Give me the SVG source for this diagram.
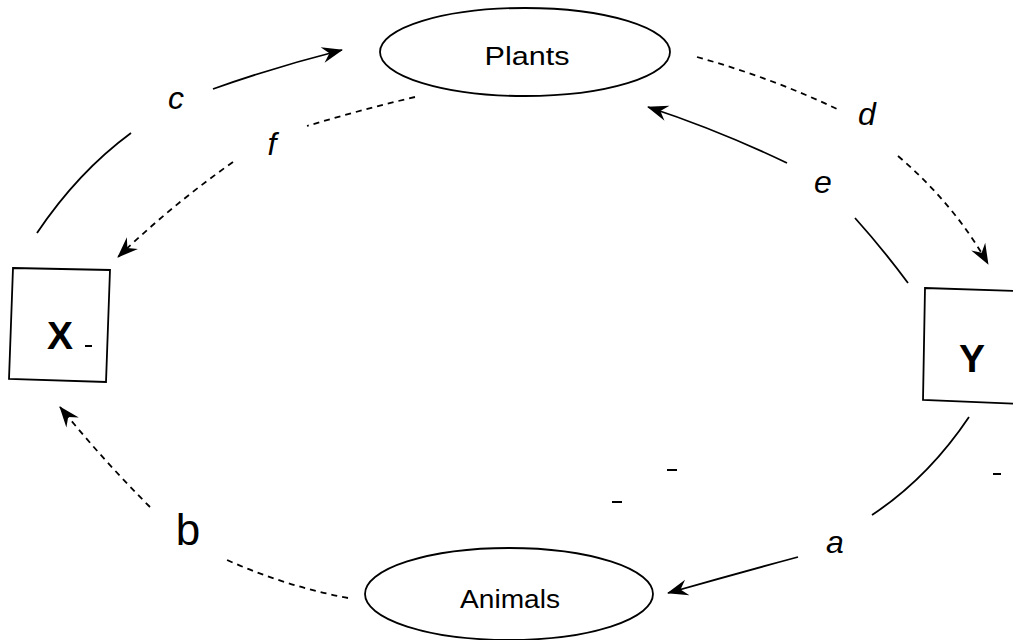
<svg xmlns="http://www.w3.org/2000/svg" width="1013" height="640" viewBox="0 0 1013 640">
  <style>
    .shape { fill: #fff; stroke: #000; stroke-width: 1.8; }
    .solid { fill: none; stroke: #000; stroke-width: 1.8; }
    .dash { fill: none; stroke: #000; stroke-width: 1.8; stroke-dasharray: 6 5; }
    .name { font-family: "Liberation Sans", Arial, sans-serif; font-size: 26px; fill: #000; text-anchor: middle; }
    .box { font-family: "Liberation Sans", Arial, sans-serif; font-weight: bold; font-size: 39px; fill: #000; text-anchor: middle; }
    .lbl { font-family: "Liberation Sans", Arial, sans-serif; font-style: italic; font-size: 32px; fill: #000; text-anchor: middle; }
    .mark { stroke: #000; stroke-width: 2; }
  </style>
  <defs>
    <marker id="arrow" markerUnits="userSpaceOnUse" viewBox="0 0 22 18" markerWidth="22" markerHeight="18" refX="21" refY="9" orient="auto">
      <path d="M1,1 L22,9 L1,17 L8,9 z" fill="#000"/>
    </marker>
  </defs>
  <rect width="1013" height="640" fill="#fff"/>

  <!-- connectors -->
  <g id="connectors">
    <!-- c : X to Plants -->
    <path class="solid" d="M37,233 Q78,172 131,133"/>
    <path class="solid" d="M213,89 Q275,67 342,50" marker-end="url(#arrow)"/>
    <!-- f : Plants to X -->
    <path class="dash" d="M415,97 Q360,110 307,126"/>
    <path class="dash" d="M233,162 Q172,205 118,257" marker-end="url(#arrow)"/>
    <!-- d : Plants to Y -->
    <path class="dash" d="M697,57 Q772,78 837,109"/>
    <path class="dash" d="M898,156 Q955,205 988,264" marker-end="url(#arrow)"/>
    <!-- e : Y to Plants -->
    <path class="solid" d="M908,283 Q882,248 855,218"/>
    <path class="solid" d="M787,163 Q718,130 648,107" marker-end="url(#arrow)"/>
    <!-- a : Y to Animals -->
    <path class="solid" d="M969,417 Q928,478 872,515"/>
    <path class="solid" d="M798,557 Q735,574 668,593" marker-end="url(#arrow)"/>
    <!-- b : Animals to X -->
    <path class="dash" d="M348,598 Q285,586 227,560"/>
    <path class="dash" d="M150,507 Q103,460 60,407" marker-end="url(#arrow)"/>
  </g>

  <!-- edge labels -->
  <g id="labels">
    <text class="lbl" x="176" y="109">c</text>
    <text class="lbl" x="272" y="155">f</text>
    <text class="lbl" x="867" y="125">d</text>
    <text class="lbl" x="823" y="193">e</text>
    <text class="lbl" x="835" y="553">a</text>
    <text class="name" x="188" y="545" style="font-size:44px">b</text>
  </g>

  <g id="plants">
    <ellipse class="shape" cx="525" cy="52" rx="145" ry="44"/>
    <text class="name" x="527" y="65" textLength="85" lengthAdjust="spacingAndGlyphs">Plants</text>
  </g>

  <g id="animals">
    <ellipse class="shape" cx="509" cy="594" rx="144" ry="46"/>
    <text class="name" x="510" y="608" textLength="100" lengthAdjust="spacingAndGlyphs">Animals</text>
  </g>

  <g id="x">
    <polygon class="shape" points="13,268 110,270 106,382 9,379"/>
    <text class="box" x="60" y="349">X</text>
    <line class="mark" x1="85" y1="346" x2="92" y2="346"/>
  </g>

  <g id="y">
    <polygon class="shape" points="925,288 1020,291 1020,404 923,400"/>
    <text class="box" x="972" y="372">Y</text>
  </g>

  <!-- small stray ticks -->
  <g id="ticks">
    <line class="mark" x1="993" y1="474" x2="1001" y2="474"/>
    <line class="mark" x1="667" y1="470" x2="677" y2="470"/>
    <line class="mark" x1="612" y1="502" x2="622" y2="502"/>
  </g>
</svg>
